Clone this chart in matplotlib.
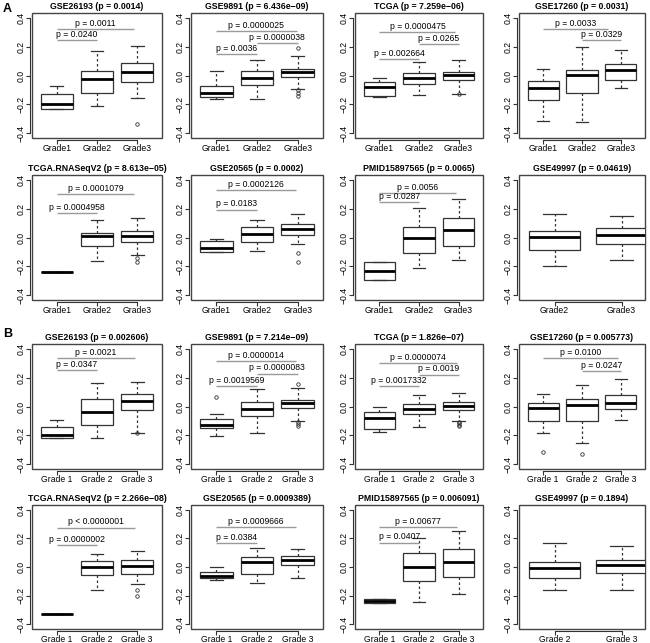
import numpy as np
import matplotlib.pyplot as plt
from matplotlib.patches import Rectangle

plt.rcParams['font.family'] = ['Liberation Sans', 'DejaVu Sans']

W, H = 650, 643

# ---- panel A ----
titles_A = ['GSE26193 (p = 0.0014)', 'GSE9891 (p = 6.436e\u221209)',
            'TCGA (p = 7.259e\u221206)', 'GSE17260 (p = 0.0031)',
            'TCGA.RNASeqV2 (p = 8.613e\u221205)', 'GSE20565 (p = 0.0002)',
            'PMID15897565 (p = 0.0065)', 'GSE49997 (p = 0.04619)']

# per group: [whisker low, q1, median, q3, whisker high]
box_A = [
    [[-0.235, -0.234, -0.200, -0.130, -0.075], [-0.214, -0.118, -0.027, 0.034, 0.168], [-0.157, -0.048, 0.023, 0.089, 0.207]],
    [[-0.164, -0.148, -0.118, -0.070, 0.032], [-0.161, -0.068, -0.018, 0.032, 0.107], [-0.093, -0.011, 0.025, 0.048, 0.132]],
    [[-0.150, -0.143, -0.080, -0.043, -0.016], [-0.132, -0.057, -0.016, 0.014, 0.093], [-0.125, -0.034, 0.002, 0.027, 0.107]],
    [[-0.313, -0.171, -0.084, -0.036, 0.043], [-0.322, -0.123, 0.005, 0.039, 0.196], [-0.089, -0.030, 0.037, 0.082, 0.174]],
    [[-0.240, -0.240, -0.240, -0.240, -0.240], [-0.163, -0.057, 0.009, 0.030, 0.124], [-0.120, -0.030, 0.009, 0.044, 0.133]],
    [[-0.097, -0.097, -0.074, -0.021, -0.007], [-0.094, -0.030, 0.025, 0.071, 0.124], [-0.048, 0.016, 0.057, 0.094, 0.163]],
    [[-0.294, -0.294, -0.234, -0.170, -0.170], [-0.209, -0.110, -0.005, 0.071, 0.205], [-0.156, -0.060, 0.055, 0.133, 0.269]],
    [[-0.200, -0.087, 0.002, 0.044, 0.161], [-0.156, -0.044, 0.018, 0.067, 0.152]],
]
out_A = [
    [[], [], [-0.336]],
    [[], [], [0.19, -0.10, -0.12, -0.14]],
    [[], [], [-0.13]],
    [[], [], []],
    [[], [], [-0.145, -0.17]],
    [[], [], [-0.108, -0.166]],
    [[], [], []],
    [[], []],
]
# comparisons: (from group, to group, height, label)
pairs_A = [
    [(1, 2.93, 0.323, 'p = 0.0011'), (1, 2, 0.243, 'p = 0.0240')],
    [(1, 2.97, 0.305, 'p = 0.0000025'), (2, 3, 0.225, 'p = 0.0000038'), (1, 2, 0.150, 'p = 0.0036')],
    [(1, 2.92, 0.298, 'p = 0.0000475'), (2, 3, 0.218, 'p = 0.0265'), (1, 2, 0.114, 'p = 0.002664')],
    [(1, 2.68, 0.322, 'p = 0.0033'), (2, 3, 0.242, 'p = 0.0329')],
    [(1, 2.92, 0.303, 'p = 0.0001079'), (1, 2, 0.170, 'p = 0.0004958')],
    [(1, 2.95, 0.331, 'p = 0.0002126'), (1, 2, 0.193, 'p = 0.0183')],
    [(1, 2.94, 0.308, 'p = 0.0056'), (1, 2, 0.244, 'p = 0.0287')],
    [],
]
groups_A = [['Grade1', 'Grade2', 'Grade3']] * 7 + [['Grade2', 'Grade3']]

# ---- panel B ----
titles_B = ['GSE26193 (p = 0.002606)', 'GSE9891 (p = 7.214e\u221209)',
            'TCGA (p = 1.826e\u221207)', 'GSE17260 (p = 0.005773)',
            'TCGA.RNASeqV2 (p = 2.266e\u221208)', 'GSE20565 (p = 0.0009389)',
            'PMID15897565 (p = 0.006091)', 'GSE49997 (p = 0.1894)']
box_B = [
    [[-0.219, -0.219, -0.198, -0.139, -0.092], [-0.221, -0.125, -0.038, 0.049, 0.165], [-0.181, -0.026, 0.035, 0.085, 0.172]],
    [[-0.205, -0.151, -0.127, -0.085, -0.054], [-0.184, -0.068, -0.014, 0.028, 0.118], [-0.099, -0.012, 0.021, 0.042, 0.129]],
    [[-0.176, -0.158, -0.078, -0.038, -0.005], [-0.141, -0.054, -0.016, 0.016, 0.078], [-0.100, -0.021, 0.005, 0.028, 0.094]],
    [[-0.181, -0.099, -0.012, 0.026, 0.087], [-0.252, -0.101, 0.012, 0.054, 0.146], [-0.094, -0.016, 0.026, 0.082, 0.188]],
    [[-0.330, -0.330, -0.330, -0.330, -0.330], [-0.160, -0.055, 0.000, 0.040, 0.090], [-0.120, -0.050, 0.005, 0.050, 0.110]],
    [[-0.090, -0.080, -0.060, -0.035, 0.000], [-0.110, -0.050, 0.035, 0.070, 0.130], [-0.075, 0.015, 0.050, 0.075, 0.125]],
    [[-0.250, -0.250, -0.235, -0.220, -0.220], [-0.245, -0.100, 0.000, 0.100, 0.200], [-0.185, -0.070, 0.035, 0.125, 0.250]],
    [[-0.160, -0.075, -0.005, 0.035, 0.165], [-0.160, -0.045, 0.015, 0.050, 0.145]],
]
out_B = [
    [[], [], [-0.181]],
    [[0.066], [], [0.158, -0.105, -0.118, -0.134]],
    [[], [], [-0.106, -0.115, -0.125, -0.134]],
    [[-0.313], [-0.327], []],
    [[], [], [-0.16, -0.20]],
    [[], [], []],
    [[], [], []],
    [[], []],
]
pairs_B = [
    [(1, 2.95, 0.336, 'p = 0.0021'), (1, 2, 0.252, 'p = 0.0347')],
    [(1, 2.95, 0.313, 'p = 0.0000014'), (2, 3, 0.228, 'p = 0.0000083'), (1, 2, 0.144, 'p = 0.0019569')],
    [(1, 2.95, 0.301, 'p = 0.0000074'), (2, 3, 0.221, 'p = 0.0019'), (1, 2, 0.144, 'p = 0.0017332')],
    [(1, 2.93, 0.336, 'p = 0.0100'), (2, 3, 0.247, 'p = 0.0247')],
    [(1, 2.95, 0.275, 'p < 0.0000001'), (1, 2, 0.150, 'p = 0.0000002')],
    [(1, 2.95, 0.280, 'p = 0.0009666'), (1, 2, 0.165, 'p = 0.0384')],
    [(1, 2.95, 0.280, 'p = 0.00677'), (1, 2, 0.170, 'p = 0.0407')],
    [],
]
groups_B = [['Grade 1', 'Grade 2', 'Grade 3']] * 7 + [['Grade 2', 'Grade 3']]

yticks = [-0.4, -0.2, 0.0, 0.2, 0.4]
ytick_labels = ['\u22120.4', '\u22120.2', '0.0', '0.2', '0.4']

# layout in pixels (left, right) and (top, bottom)
cols = [(32, 162), (191, 323), (355, 483), (519, 645)]
rows = [(13, 138), (175, 300), (344, 469), (505, 629)]

edge = '#333333'


def draw_panel(ax, title, stats, outl, pairs, labels):
    n = len(stats)
    pos = np.arange(1, n + 1)
    bstats = [dict(whislo=s[0], q1=s[1], med=s[2], q3=s[3], whishi=s[4], fliers=o)
              for s, o in zip(stats, outl)]
    w = 0.8 if n == 3 else 0.75
    capw = 0.32 if n == 3 else 0.35
    ax.bxp(bstats, positions=pos, widths=w, capwidths=capw, patch_artist=True,
           boxprops=dict(facecolor='white', edgecolor=edge, linewidth=0.9),
           medianprops=dict(color='black', linewidth=2.0),
           whiskerprops=dict(color=edge, linewidth=0.9, linestyle=(0, (2, 2))),
           capprops=dict(color=edge, linewidth=0.9),
           flierprops=dict(marker='o', markersize=2.5, markerfacecolor='none',
                           markeredgecolor=edge, markeredgewidth=0.6))
    for x1, x2, y, txt in pairs:
        ax.plot([x1, x2], [y, y], color='#9a9a9a', lw=1.0, solid_capstyle='butt')
        ax.annotate(txt, ((x1 + x2) / 2, y), xytext=(0, 0.8), textcoords='offset points',
                    ha='center', va='bottom', fontsize=6.2)
    if n == 3:
        ax.set_xlim(0.38, 3.62)
    else:
        ax.set_xlim(0.47, 2.35)
    ax.set_ylim(-0.432, 0.432)

    # axis lines first (set_position resets the ticks)
    ax.spines['top'].set_visible(False)
    ax.spines['right'].set_visible(False)
    ax.spines['left'].set_position(('outward', 1.2))
    ax.spines['bottom'].set_position(('outward', 1.2))
    ax.spines['left'].set_bounds(-0.4, 0.4)
    ax.spines['bottom'].set_bounds(1, n)
    for s in ('left', 'bottom'):
        ax.spines[s].set_linewidth(0.8)
        ax.spines[s].set_color(edge)

    ax.set_xticks(pos)
    ax.set_xticklabels(labels)
    ax.set_yticks(yticks)
    ax.set_yticklabels(ytick_labels, rotation=90, va='center')
    ax.tick_params(length=2.8, width=0.8, pad=0.6, color=edge, labelsize=6.2)

    ax.add_patch(Rectangle((0, 0), 1, 1, transform=ax.transAxes, fill=False,
                           edgecolor='#444444', lw=1.0, clip_on=False))
    ax.set_title(title, fontsize=6.3, fontweight='bold', pad=3)


fig = plt.figure(figsize=(W / 100, H / 100), dpi=100)

panels = [(titles_A, box_A, out_A, pairs_A, groups_A),
          (titles_B, box_B, out_B, pairs_B, groups_B)]
for p, (titles, boxes, outs, prs, grps) in enumerate(panels):
    for i in range(8):
        r = rows[p * 2 + i // 4]
        c = cols[i % 4]
        ax = fig.add_axes([c[0] / W, 1 - r[1] / H, (c[1] - c[0]) / W, (r[1] - r[0]) / H])
        draw_panel(ax, titles[i], boxes[i], outs[i], prs[i], grps[i])

fig.text(3 / W, 1 - 9 / H, 'A', fontsize=9, fontweight='bold', va='center')
fig.text(3 / W, 1 - 334 / H, 'B', fontsize=9, fontweight='bold', va='center')

fig.savefig('out.png', dpi=100)
